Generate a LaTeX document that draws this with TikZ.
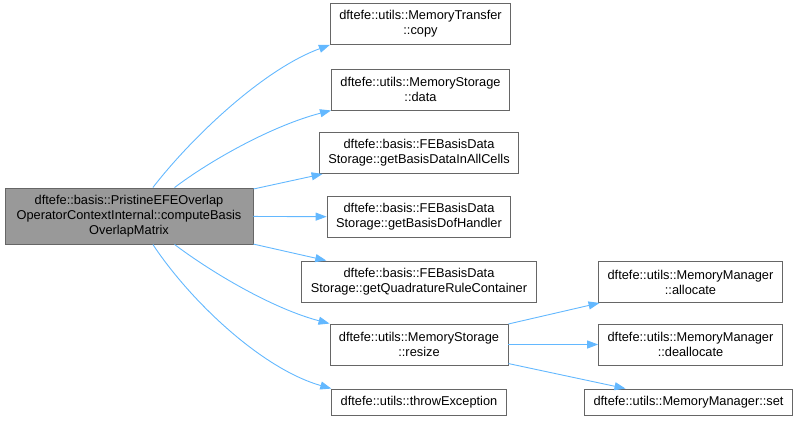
\documentclass[tikz,border=0pt]{standalone}
\usepackage{fontspec}
\setmainfont{Liberation Sans}
\usetikzlibrary{positioning}
\usetikzlibrary{arrows.meta}
\definecolor{edgeblue}{HTML}{63B8FF}
\definecolor{boxline}{HTML}{666666}
\definecolor{rootfill}{HTML}{999999}
\tikzset{
    every node/.append style={
        font=\fontsize{12.8}{15}\selectfont,
        align=center
    },
    fn/.style={
        draw=boxline,
        fill=white,
        line width=0.9pt,
        inner xsep=9pt,
        inner ysep=0pt,
        minimum height=41pt
    },
    fnone/.style={
        fn,
        minimum height=26pt
    },
    fnroot/.style={
        fn,
        fill=rootfill,
        minimum width=248pt,
        minimum height=56pt
    },
    call/.style={
        draw=edgeblue,
        line width=0.9pt,
        -{Triangle[length=11pt,width=8pt]}
    },
    every edge/.append style={call}
}

\begin{document}
\begin{tikzpicture}[x=1pt,y=1pt]
    \useasboundingbox (0,0) rectangle (801,-421);

    \node[fnroot] (main) at (129,-216) {dftefe::basis::PristineEFEOverlap\\OperatorContextInternal::computeBasis\\OverlapMatrix};

    \node[fn] (copy) at (420.5,-24) {dftefe::utils::MemoryTransfer\\::copy};
    \node[fn] (data) at (420.5,-89.5) {dftefe::utils::MemoryStorage\\::data};
    \node[fn] (bdata) at (419,-153) {dftefe::basis::FEBasisData\\Storage::getBasisDataInAllCells};
    \node[fn] (dof) at (419,-217) {dftefe::basis::FEBasisData\\Storage::getBasisDofHandler};
    \node[fn] (quad) at (419,-281.5) {dftefe::basis::FEBasisData\\Storage::getQuadratureRuleContainer};
    \node[fn] (rsz) at (419,-344.5) {dftefe::utils::MemoryStorage\\::resize};
    \node[fnone] (thr) at (419,-402) {dftefe::utils::throwException};

    \node[fn] (alloc) at (690.5,-282) {dftefe::utils::MemoryManager\\::allocate};
    \node[fn] (dealloc) at (690.5,-344.5) {dftefe::utils::MemoryManager\\::deallocate};
    \node[fnone] (mset) at (688.5,-402) {dftefe::utils::MemoryManager::set};

    % calls from the root
    \draw[call] (main.50) .. controls +(37,48) and +(-68,-25) .. (copy.south west);
    \draw[call] (main.32) .. controls +(37,28) and +(-58,-15) .. (data.south west);
    \draw (main) edge (bdata);
    \draw (main) edge (dof);
    \draw (main) edge (quad);
    \draw[call] (main.-32) .. controls +(37,-28) and +(-57,15) .. (rsz.north west);
    \draw[call] (main.-50) .. controls +(37,-56) and +(-70,20) .. (thr.north west);

    % calls from resize
    \draw (rsz) edge (alloc);
    \draw (rsz) edge (dealloc);
    \draw (rsz) edge (mset);
\end{tikzpicture}
\end{document}
